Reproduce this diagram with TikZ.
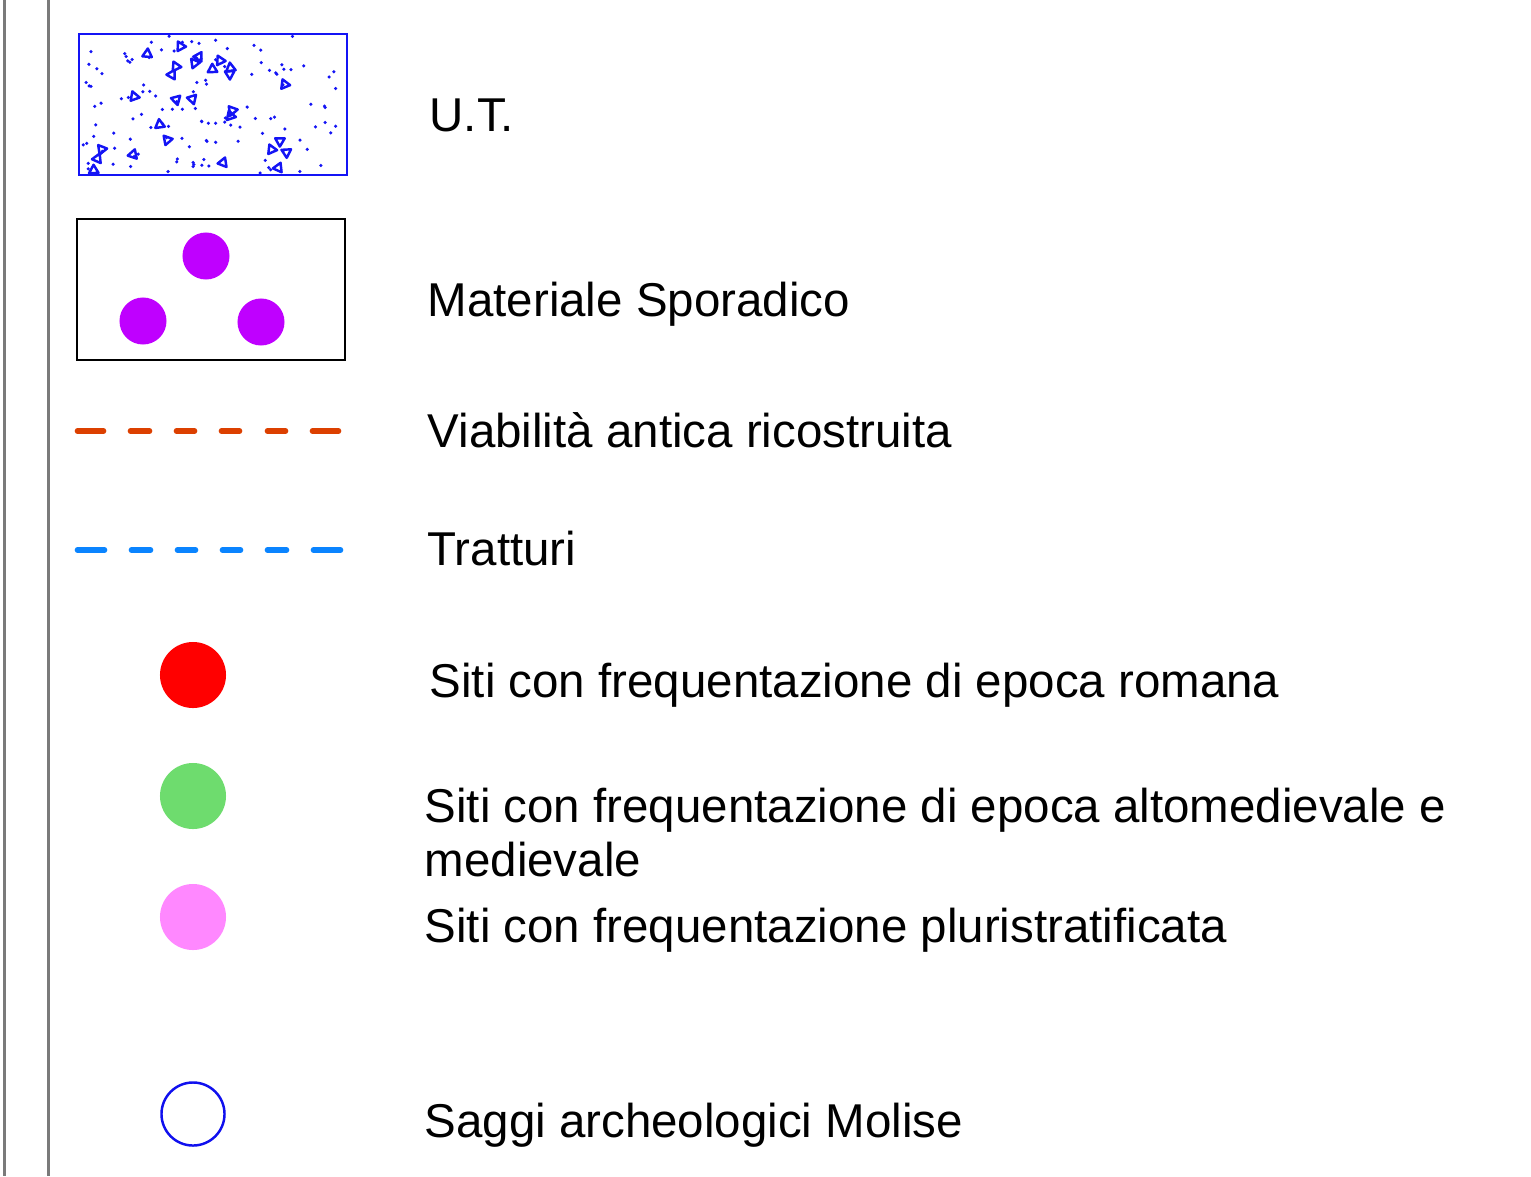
\documentclass[tikz,border=0pt]{standalone}
\usepackage{fontspec}
\setmainfont{Liberation Sans}
\usepackage{tikz}
\usetikzlibrary{calc, positioning}
\definecolor{Frame}{HTML}{7A7A7A}
\definecolor{UTBlue}{HTML}{1414F5}
\definecolor{Sporadic}{HTML}{BF00FF}
\definecolor{RoadOld}{HTML}{DC4000}
\definecolor{Tratturo}{HTML}{0A84FF}
\definecolor{SiteRoman}{HTML}{FF0000}
\definecolor{SiteMedieval}{HTML}{6EDC6E}
\definecolor{SitePluri}{HTML}{FF88FF}
\definecolor{Saggio}{HTML}{1010EE}
\tikzset{
  frameline/.style={draw=Frame, line width=0.6pt},
  utbox/.style={draw=UTBlue, line width=0.6pt},
  utmark/.style={draw=UTBlue, line width=0.7pt, line join=round},
  spbox/.style={draw=black, line width=0.6pt},
  spdot/.style={circle, fill=Sporadic, minimum size=0.47cm, inner sep=0pt},
  site/.style={circle, minimum size=0.66cm, inner sep=0pt},
  road/.style={line width=1.6pt, line cap=round},
  label/.style={anchor=base west, inner sep=0pt, font=\fontsize{13.5}{15.3}\selectfont},
}

\begin{document}
\begin{tikzpicture}[x=0.01cm, y=-0.01cm]
  \useasboundingbox (0,0) rectangle (1531,1176);

  % Margin rules at left
  \draw[frameline] (4.5,0) -- (4.5,1176);
  \draw[frameline] (48.5,0) -- (48.5,1176);

  % U.T. box with scattered finds
  \draw[utbox] (79,34) rectangle (347,175);
  \pgfmathsetseed{41}
  \foreach \i in {1,...,125}{
    \pgfmathsetmacro\px{81+rnd*264}
    \pgfmathsetmacro\py{36+rnd*138}
    \fill[UTBlue] (\px,\py) circle (0.5pt);
  }
  \foreach \i in {1,...,27}{
    \pgfmathsetmacro\px{84+rnd*258}
    \pgfmathsetmacro\py{40+rnd*132}
    \pgfmathsetmacro\aa{rnd*360}
    \pgfmathsetmacro\ab{\aa+120}
    \pgfmathsetmacro\ac{\aa+240}
    \draw[utmark] (\px,\py) +(\aa:5.5) -- +(\ab:5.5) -- +(\ac:5.5) -- cycle;
  }
  \node[label] (ut) at (429,132) {U.T.};

  % Materiale sporadico
  \draw[spbox] (77,219) rectangle (345,360);
  \node[spdot] (spA) at (206,256) {};
  \node[spdot] (spB) at (143,321) {};
  \node[spdot] (spC) at (261,322) {};
  \node[label] (sporadico) at (427,316) {Materiale Sporadico};

  % Dashed roads
  \foreach \a/\b in {77.5/103.5, 130.5/149.5, 176.5/194.5, 221.5/239.5, 267.5/285.5, 312.5/338.5}{
    \draw[road, RoadOld] (\a,431) -- (\b,431);
  }
  \node[label] (viabilita) at (427,447) {Viabilità antica ricostruita};

  \foreach \a/\b in {77.5/104.5, 131.5/150.5, 177.5/195.5, 222.5/240.5, 267.5/286.5, 313.5/340.5}{
    \draw[road, Tratturo] (\a,550) -- (\b,550);
  }
  \node[label] (tratturi) at (427,565) {Tratturi};

  % Sites
  \node[site, fill=SiteRoman] (roman) at (193,675) {};
  \node[label] (romana) at (429,697) {Siti con frequentazione di epoca romana};

  \node[site, fill=SiteMedieval] (medieval) at (193,796) {};
  \node[label] (altomed) at (424,822) {Siti con frequentazione di epoca altomedievale e};
  \node[label] (medievale) at ($(altomed.base west)+(0,54)$) {medievale};

  \node[site, fill=SitePluri] (pluri) at (193,917) {};
  \node[label] (pluristrat) at (424,942) {Siti con frequentazione pluristratificata};

  \node[site, draw=Saggio, line width=0.7pt, minimum size=0.63cm] (saggio) at (193,1114) {};
  \node[label] (saggi) at (424,1137) {Saggi archeologici Molise};
\end{tikzpicture}
\end{document}
